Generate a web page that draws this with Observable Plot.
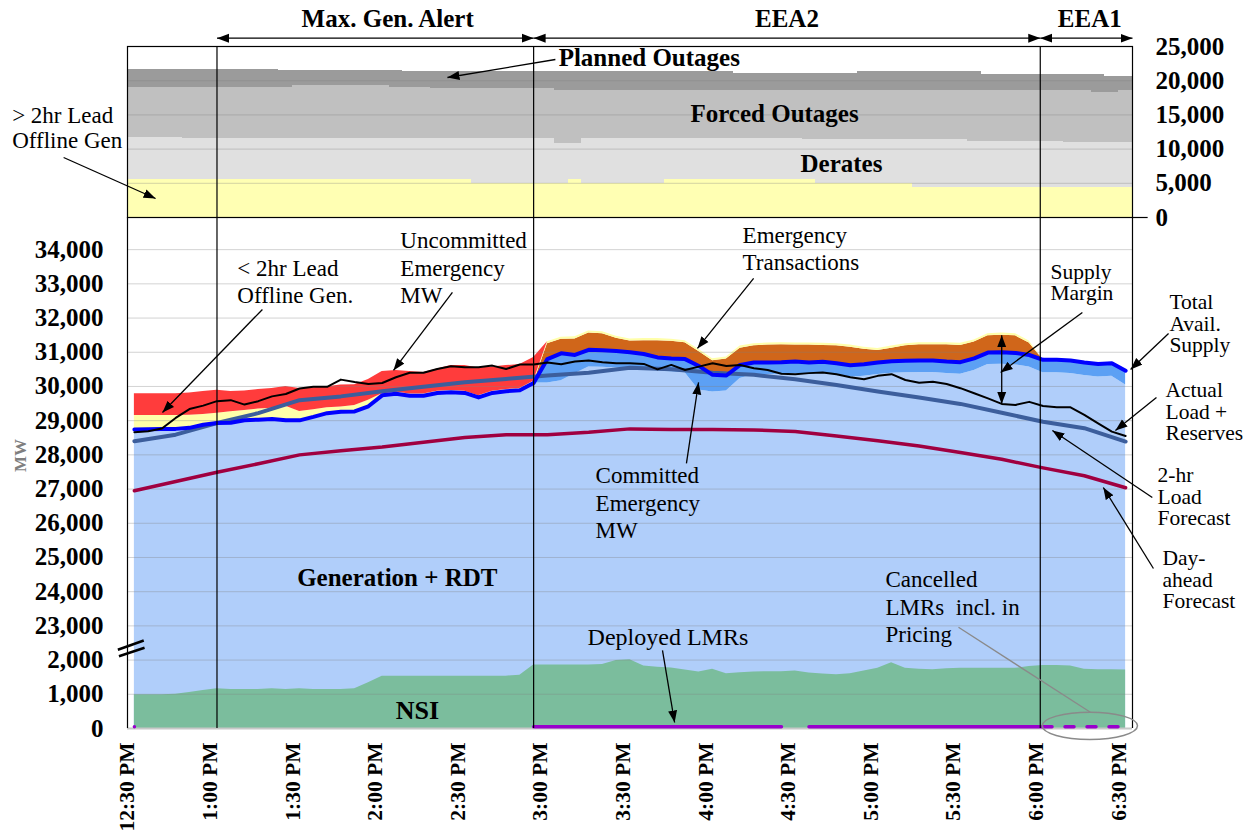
<!DOCTYPE html>
<html><head><meta charset="utf-8">
<script src="https://cdn.jsdelivr.net/npm/d3@7"></script>
<script src="https://cdn.jsdelivr.net/npm/@observablehq/plot@0.6"></script>
<style>
body{margin:0;background:#fff;}
#wrap{position:relative;width:1255px;height:833px;overflow:hidden;font-family:"Liberation Serif","Times New Roman",serif;}
#wrap svg{position:absolute;left:0;overflow:visible;}
</style></head><body><div id="wrap"></div>
<script>
// ---------- time axis (minutes after 12:30 PM) ----------
const t5 = d3.range(0, 361, 5);   // 5-minute intervals
const t15 = d3.range(0, 361, 15); // 15-minute intervals
const tickMinutes = [0, 30, 60, 90, 120, 150, 180, 210, 240, 270, 300, 330, 360];
const tickLabels = ["12:30 PM","1:00 PM","1:30 PM","2:00 PM","2:30 PM","3:00 PM","3:30 PM","4:00 PM","4:30 PM","5:00 PM","5:30 PM","6:00 PM","6:30 PM"];
const eventTimes = [30, 145, 329];
const periodNames = ["Max. Gen. Alert", "EEA2", "EEA1"];
const periodFrom = [30, 145, 329];
const periodTo = [145, 329, 362.5];
const periodLabelAt = [92, 237, 347];

// ---------- top panel: outages (MW) ----------
const offlineGt2hr = [
5560,5560,5560,5560,5560,5560,5560,5560,5560,5560,5560,5560,
5560,5560,5560,5560,5560,5560,5560,5560,5560,5560,5560,5560,
5560,4900,4900,4900,4900,4900,4900,4900,5560,4900,4900,4900,
4900,4900,4900,5560,5560,5560,5560,5560,5560,5560,5560,5560,
5560,5560,4900,4900,4900,4900,4900,4900,4900,4330,4330,4330,
4330,4330,4330,4330,4330,4330,4330,4330,4330,4330,4330,4330,
4330];
const derates = [
6090,6090,6090,6090,6010,6010,6010,6010,6010,6010,6010,6010,
6010,6010,6010,6010,6010,6010,6010,6010,6010,6010,6010,6010,
6010,6670,6670,6670,6670,6670,6670,5900,5240,6670,6670,6670,
6670,6670,6670,6010,6010,6010,6010,6010,6010,6010,6010,6010,
6010,5860,6520,6520,6520,6520,6520,6520,6520,7090,7090,7090,
7090,6840,6840,6840,6840,6840,6840,6840,6670,6670,6670,6670,
6670];
const forcedOutages = [
7340,7340,7340,7340,7420,7420,7420,7420,7420,7420,7420,7420,
7660,7660,7660,7660,7660,7660,7660,7430,7430,7430,7330,7330,
7330,7330,7330,7330,7330,7330,7330,7800,7800,7030,7030,7030,
7030,7030,7030,7030,7030,7030,7030,7030,7030,7030,7030,7030,
7030,7180,7180,7180,7180,7180,7180,7180,7180,7180,7080,7080,
7080,7330,7330,7330,7330,7330,7330,7330,7500,7500,7250,7250,
7500];
const plannedOutages = [
2590,2590,2590,2590,2590,2590,2590,2590,2590,2590,2590,2440,
2200,2200,2200,2200,2200,2200,2200,2430,2290,2290,2390,2390,
2390,2390,2390,2390,2390,2390,2390,2690,2690,2690,2690,2690,
2690,2690,2690,2690,2690,2690,2690,2690,2400,2400,2400,2400,
2400,2400,2400,2400,2400,2690,2690,2690,2690,2690,2790,2790,
2790,2790,2350,2350,2350,2350,2350,2350,2350,2350,2600,2300,
2050];
const topTicks = [0, 5000, 10000, 15000, 20000, 25000];

// ---------- bottom panel (MW) ----------
const totalAvailSupply = [
28740,28750,28760,28760,28790,28880,28930,28940,29010,29030,29050,29010,
29010,29110,29220,29260,29270,29420,29740,29790,29730,29730,29810,29830,
29810,29680,29810,29860,29890,30100,30800,30970,30920,31070,31060,31040,
31000,30950,30850,30820,30800,30600,30340,30320,30630,30700,30700,30710,
30730,30700,30720,30680,30620,30650,30700,30740,30750,30760,30760,30730,
30710,30820,30990,31000,30980,30920,30780,30780,30760,30700,30660,30680,
30460];
const actualLoadReserves = [
28660,28690,28770,29080,29340,29440,29570,29600,29470,29570,29710,29780,
29940,29990,29990,30200,30130,30070,30100,30270,30400,30400,30510,30590,
30560,30560,30610,30510,30640,30640,30700,30650,30730,30760,30710,30680,
30680,30660,30500,30630,30480,30580,30680,30600,30630,30530,30480,30370,
30360,30390,30410,30360,30270,30210,30310,30360,30190,30110,30140,30070,
29950,29800,29650,29490,29460,29550,29430,29390,29390,29170,28920,28680,
28550];
const committedEmergency = [
0,0,0,0,0,0,0,0,0,0,0,0,
0,0,0,0,0,0,0,0,0,0,0,0,
0,0,0,0,0,0,700,800,550,500,500,500,
500,450,400,400,400,700,500,450,400,350,350,350,
350,350,350,350,350,350,350,350,350,350,350,350,
350,350,350,350,350,350,380,380,380,380,380,380,
420];
const emergencyTransactions = [
0,0,0,0,0,0,0,0,0,0,0,0,
0,0,0,0,0,0,0,0,0,0,0,0,
0,0,0,0,0,0,450,410,470,490,480,370,
330,390,490,500,480,420,410,480,490,490,510,510,
480,510,480,510,530,440,350,380,440,460,460,490,
490,480,490,500,500,350,0,0,0,0,0,0,
0];
const offlineLt2hr = [
410,400,390,390,370,300,290,320,290,310,310,410,
260,210,160,140,170,180,50,50,50,50,50,50,
50,50,50,50,50,50,60,60,60,60,60,60,
60,60,60,60,60,60,60,60,60,60,60,60,
60,60,60,60,60,60,60,60,60,60,60,60,
60,60,60,60,60,60,0,0,0,0,0,0,
0];
const uncommittedEmergency = [
640,640,640,640,650,670,670,590,570,570,580,580,
670,640,610,640,610,600,650,630,660,630,650,730,
750,810,710,700,700,700,0,0,0,0,0,0,
0,0,0,0,0,0,0,0,0,0,0,0,
0,0,0,0,0,0,0,0,0,0,0,0,
0,0,0,0,0,0,0,0,0,0,0,0,
0];
const nsi = [
990,990,990,1000,1050,1110,1160,1140,1140,1140,1160,1140,
1160,1140,1140,1140,1160,1340,1530,1530,1530,1530,1530,1530,
1530,1530,1530,1530,1560,1860,1860,1860,1860,1860,1870,1990,
2010,1830,1790,1770,1710,1650,1730,1600,1630,1650,1660,1660,
1680,1620,1590,1570,1600,1680,1760,1920,1760,1730,1720,1750,
1760,1760,1760,1760,1760,1810,1840,1840,1830,1730,1720,1720,
1710];
const deployedLMR = [
50,null,null,null,null,null,null,null,null,null,null,null,
null,null,null,null,null,null,null,null,null,null,null,null,
null,null,null,null,null,50,50,50,50,50,50,50,
50,50,50,50,50,50,50,50,50,50,50,50,
null,50,50,50,50,50,50,50,50,50,50,50,
50,50,50,50,50,50,50,null,null,null,null,null,
null];
const cancelledLMR = [
null,null,null,null,null,null,null,null,null,null,null,null,
null,null,null,null,null,null,null,null,null,null,null,null,
null,null,null,null,null,null,null,null,null,null,null,null,
null,null,null,null,null,null,null,null,null,null,null,null,
null,null,null,null,null,null,null,null,null,null,null,null,
null,null,null,null,null,null,50,50,50,50,50,50,
50];
// 15-minute forecasts
const dayAheadForecast = [26950,27220,27490,27740,28000,28120,28230,28370,28510,28590,28590,28660,28760,28740,28740,28730,28680,28550,28410,28260,28070,27870,27620,27390,27040];
const twoHrLoadForecast = [28400,28590,28930,29220,29600,29710,29860,29990,30120,30220,30320,30400,30550,30500,30400,30340,30210,30040,29850,29680,29490,29230,28970,28780,28390];
const bottomTickValues = [0,1000,2000,23000,24000,25000,26000,27000,28000,29000,30000,31000,32000,33000,34000];
const supplyMarginIndex = 63;

// sanity check
for (const [k, a] of Object.entries({offlineGt2hr, derates, forcedOutages, plannedOutages, totalAvailSupply, actualLoadReserves, committedEmergency, emergencyTransactions, offlineLt2hr, uncommittedEmergency, nsi, deployedLMR, cancelledLMR}))
  if (a.length !== t5.length) throw new Error(k + " length " + a.length);

// broken axis: 0..2,000 MW segment sits just under 23,000
const toAxis = v => (v == null ? null : (v <= 2500 ? v + 20000 : v));

const C = {gen:"#b0cefa", nsi:"#7bbd9d", committed:"#5ca0f4", trans:"#d0661a", lt2hr:"#ffffaa", uncommitted:"#ff3c3c",
  total:"#0000ff", load:"#000000", twoHr:"#3c5e9c", dayAhead:"#a00040", lmr:"#9900cc",
  gt2hr:"#ffffb3", derates:"#e0e0e0", forced:"#c0c0c0", planned:"#9b9b9b"};

const W = 1255;
const xDomain = [-2.5, 362.5];
const FONT = "'Liberation Serif','Times New Roman',serif";

function head(color) {
  return d3.create("svg:marker")
    .attr("viewBox", "-12 -5 12 10")
    .attr("markerUnits", "userSpaceOnUse")
    .attr("markerWidth", 12).attr("markerHeight", 10)
    .attr("refX", 0).attr("refY", 0)
    .attr("orient", "auto-start-reverse")
    .call(m => m.append("path").attr("d", "M-12,-4.5L0,0L-12,4.5Z").attr("fill", color).attr("stroke", "none"))
    .node();
}

// ================= TOP CHART =================
const topLayers = [
  {values: offlineGt2hr, fill: C.gt2hr},
  {values: derates, fill: C.derates},
  {values: forcedOutages, fill: C.forced},
  {values: plannedOutages, fill: C.planned}
];
let base = t5.map(() => 0);
const topRectMarks = topLayers.map(L => {
  const rows = t5.map((t, i) => ({t, y1: base[i], y2: base[i] + L.values[i]}));
  base = rows.map(r => r.y2);
  return Plot.rect(rows, {x1: d => d.t - 2.5, x2: d => d.t + 2.5, y1: "y1", y2: "y2", fill: L.fill, shapeRendering: "crispEdges"});
});
const periods = periodNames.map((name, i) => ({name, from: periodFrom[i], to: periodTo[i], at: periodLabelAt[i]}));

const topChart = Plot.plot({
  width: W, height: 217, marginTop: 46, marginBottom: 0, marginLeft: 127, marginRight: 123,
  x: {domain: xDomain, axis: null},
  y: {domain: [0, 25000], axis: null},
  style: {fontFamily: FONT, fontSize: "23px", overflow: "visible", background: "transparent", color: "black"},
  marks: [
    ...topRectMarks,
    Plot.ruleY(topTicks.slice(1, -1), {stroke: "#808080", strokeOpacity: 0.35}),
    Plot.ruleX(eventTimes, {stroke: "black", strokeWidth: 1.2}),
    Plot.frame({stroke: "black", strokeWidth: 1.2}),
    Plot.link([0], {x1: () => xDomain[1], x2: () => 368, y1: () => 0, y2: () => 0, stroke: "black", strokeWidth: 1.2}),
    Plot.link(periods, {x1: "from", x2: "to", y1: () => 26214, y2: () => 26214, stroke: "black", strokeWidth: 1.2, markerStart: head, markerEnd: head}),
    Plot.text(periods, {x: "at", y: () => 27778, text: "name", lineAnchor: "bottom", fontWeight: "bold", fontSize: 25}),
    Plot.text(topTicks, {x: () => xDomain[1], y: d => d, text: d => d3.format(",")(d), textAnchor: "start", dx: 23, fontWeight: "bold", fontSize: 25}),
    Plot.text(["Planned Outages"], {x: () => 187, y: () => 22222, lineAnchor: "bottom", fontWeight: "bold", fontSize: 25}),
    Plot.text(["Forced Outages"], {x: () => 232.5, y: () => 13889, lineAnchor: "bottom", fontWeight: "bold", fontSize: 25}),
    Plot.text(["Derates"], {x: () => 256.8, y: () => 6579, lineAnchor: "bottom", fontWeight: "bold", fontSize: 25}),
    Plot.text(["> 2hr Lead\nOffline Gen"], {x: () => -44.4, y: () => 10088, textAnchor: "start", lineAnchor: "bottom", lineHeight: 1.13, fontSize: 23}),
    Plot.link([
      {x1: 152.9, y1: 23099, x2: 113.7, y2: 20468},
      {x1: -25.7, y1: 8772, x2: 7.7, y2: 2778}
    ], {x1: "x1", y1: "y1", x2: "x2", y2: "y2", stroke: "black", strokeWidth: 1.3, markerEnd: head})
  ]
});
topChart.style.top = "0px";

// ================= BOTTOM CHART =================
const rows = t5.map((t, i) => {
  const total = totalAvailSupply[i];
  const gen = total - committedEmergency[i];
  const s1 = total + emergencyTransactions[i];
  const s2 = s1 + offlineLt2hr[i];
  const s3 = s2 + uncommittedEmergency[i];
  return {t, gen, total, s1, s2, s3, nsi: toAxis(nsi[i]), load: actualLoadReserves[i],
    lmr: toAxis(deployedLMR[i]), cancel: toAxis(cancelledLMR[i])};
});
const zero = toAxis(0);
const leftNotes = [
  {text: "< 2hr Lead\nOffline Gen.", x: 37.4, y: 32427},
  {text: "Uncommitted\nEmergency\nMW", x: 96.6, y: 32427},
  {text: "Emergency\nTransactions", x: 220.9, y: 33392},
  {text: "Committed\nEmergency\nMW", x: 167.5, y: 25556},
  {text: "Cancelled\nLMRs  incl. in\nPricing", x: 272.8, y: 22515}
];
const rightNotes = [
  {text: "Supply\nMargin", x: 332.7, y: 32515},
  {text: "Total\nAvail.\nSupply", x: 375.9, y: 30994},
  {text: "Actual\nLoad +\nReserves", x: 374.5, y: 28421},
  {text: "2-hr\nLoad\nForecast", x: 371.6, y: 25936},
  {text: "Day-\nahead\nForecast", x: 373.4, y: 23509}
];
const arrows = [
  {x1: 46.5, y1: 32252, x2: 10.2, y2: 29240},
  {x1: 115.5, y1: 32749, x2: 94.1, y2: 30468},
  {x1: 224.9, y1: 33158, x2: 204.5, y2: 31111},
  {x1: 200.5, y1: 27749, x2: 204.9, y2: 30117},
  {x1: 191.8, y1: 22281, x2: 196.2, y2: 20175},
  {x1: 344.3, y1: 32164, x2: 314.6, y2: 30410},
  {x1: 375.6, y1: 31550, x2: 361.8, y2: 30497},
  {x1: 371.2, y1: 29678, x2: 356.3, y2: 28713},
  {x1: 369.7, y1: 26754, x2: 333.4, y2: 28713},
  {x1: 370.1, y1: 24678, x2: 351.9, y2: 27047}
];
const margin = [{x: t5[supplyMarginIndex],
  y1: totalAvailSupply[supplyMarginIndex] + emergencyTransactions[supplyMarginIndex],
  y2: actualLoadReserves[supplyMarginIndex]}];
const breakMarks = [
  {x1: -6.0, y1: 22301, x2: 3.4, y2: 22573},
  {x1: -5.6, y1: 22114, x2: 3.7, y2: 22360}
];

const bottomChart = Plot.plot({
  width: W, height: 616, marginTop: 0, marginBottom: 105, marginLeft: 127, marginRight: 123,
  x: {domain: xDomain, axis: null},
  y: {domain: [20000, 34940], axis: null},
  style: {fontFamily: FONT, fontSize: "23px", overflow: "visible", background: "transparent", color: "black"},
  marks: [
    Plot.areaY(rows, {x: "t", y1: () => zero, y2: "gen", fill: C.gen}),
    Plot.areaY(rows, {x: "t", y1: () => zero, y2: "nsi", fill: C.nsi}),
    Plot.areaY(rows, {x: "t", y1: "gen", y2: "total", fill: C.committed}),
    Plot.areaY(rows, {x: "t", y1: "total", y2: "s1", fill: C.trans}),
    Plot.areaY(rows, {x: "t", y1: "s1", y2: "s2", fill: C.lt2hr}),
    Plot.areaY(rows, {x: "t", y1: "s2", y2: "s3", fill: C.uncommitted}),
    Plot.ruleY(bottomTickValues.slice(1).map(toAxis), {stroke: "#808080", strokeOpacity: 0.35}),
    Plot.ruleY([zero], {stroke: "#c8c8c8", strokeWidth: 2}),
    Plot.line(dayAheadForecast, {x: (d, i) => t15[i], y: d => d, stroke: C.dayAhead, strokeWidth: 3.5}),
    Plot.line(twoHrLoadForecast, {x: (d, i) => t15[i], y: d => d, stroke: C.twoHr, strokeWidth: 4}),
    Plot.line(rows, {x: "t", y: "total", stroke: C.total, strokeWidth: 4}),
    Plot.line(rows, {x: "t", y: "load", stroke: C.load, strokeWidth: 2}),
    Plot.line(rows, {x: "t", y: "lmr", stroke: C.lmr, strokeWidth: 3.5}),
    Plot.line(rows, {x: "t", y: "cancel", stroke: C.lmr, strokeWidth: 3.5, strokeDasharray: "9,13"}),
    Plot.ruleX(eventTimes, {stroke: "black", strokeWidth: 1.2}),
    Plot.ruleX(xDomain, {stroke: "black", strokeWidth: 1.2}),
    // y tick labels (broken axis)
    Plot.text(bottomTickValues, {x: () => xDomain[0], y: d => toAxis(d), text: d => d3.format(",")(d), textAnchor: "end", dx: -24, fontWeight: "bold", fontSize: 25}),
    Plot.link(breakMarks, {x1: "x1", y1: "y1", x2: "x2", y2: "y2", stroke: "black", strokeWidth: 2.5}),
    Plot.text(["MW"], {x: () => -41.4, y: () => 27983, rotate: -90, fill: "#7f7f7f", fontWeight: "bold", fontSize: 17}),
    // x tick labels
    Plot.text(tickMinutes, {x: d => d, text: (d, i) => tickLabels[i], frameAnchor: "bottom", dy: 14, rotate: -90, textAnchor: "end", fontWeight: "bold", fontSize: 21.5}),
    // annotations
    Plot.text(leftNotes, {x: "x", y: "y", text: "text", textAnchor: "start", lineAnchor: "bottom", lineHeight: 1.2, fontSize: 23}),
    Plot.text(rightNotes, {x: "x", y: "y", text: "text", textAnchor: "start", lineAnchor: "bottom", lineHeight: 1.0, fontSize: 21.5}),
    Plot.text(["Deployed LMRs"], {x: () => 164.6, y: () => 22427, textAnchor: "start", lineAnchor: "bottom", fontSize: 24}),
    Plot.text(["Generation + RDT"], {x: () => 95.5, y: () => 24155, lineAnchor: "bottom", fontWeight: "bold", fontSize: 25}),
    Plot.text(["NSI"], {x: () => 102.8, y: () => 20269, lineAnchor: "bottom", fontWeight: "bold", fontSize: 26}),
    Plot.link(arrows, {x1: "x1", y1: "y1", x2: "x2", y2: "y2", stroke: "black", strokeWidth: 1.3, markerEnd: head}),
    Plot.link(margin, {x1: "x", x2: "x", y1: "y1", y2: "y2", stroke: "black", strokeWidth: 1.3, markerStart: head, markerEnd: head}),
    Plot.link([{x1: 299.3, y1: 22959, x2: 347.2, y2: 20474}], {x1: "x1", y1: "y1", x2: "x2", y2: "y2", stroke: "#8a8a8a", strokeWidth: 1.3})
  ]
});
bottomChart.style.top = "217px";

// ellipse around cancelled LMRs
{
  const sx = bottomChart.scale("x"), sy = bottomChart.scale("y");
  const cx = 347.2, cy = 20064, rx = 17.3, ry = 400;
  d3.select(bottomChart).append("ellipse")
    .attr("cx", sx.apply(cx)).attr("cy", sy.apply(cy))
    .attr("rx", sx.apply(cx + rx) - sx.apply(cx))
    .attr("ry", sy.apply(cy) - sy.apply(cy + ry))
    .attr("fill", "none").attr("stroke", "#8a8a8a").attr("stroke-width", 1.5);
}

const wrap = document.getElementById("wrap");
wrap.appendChild(bottomChart);
wrap.appendChild(topChart);
</script></body></html>
